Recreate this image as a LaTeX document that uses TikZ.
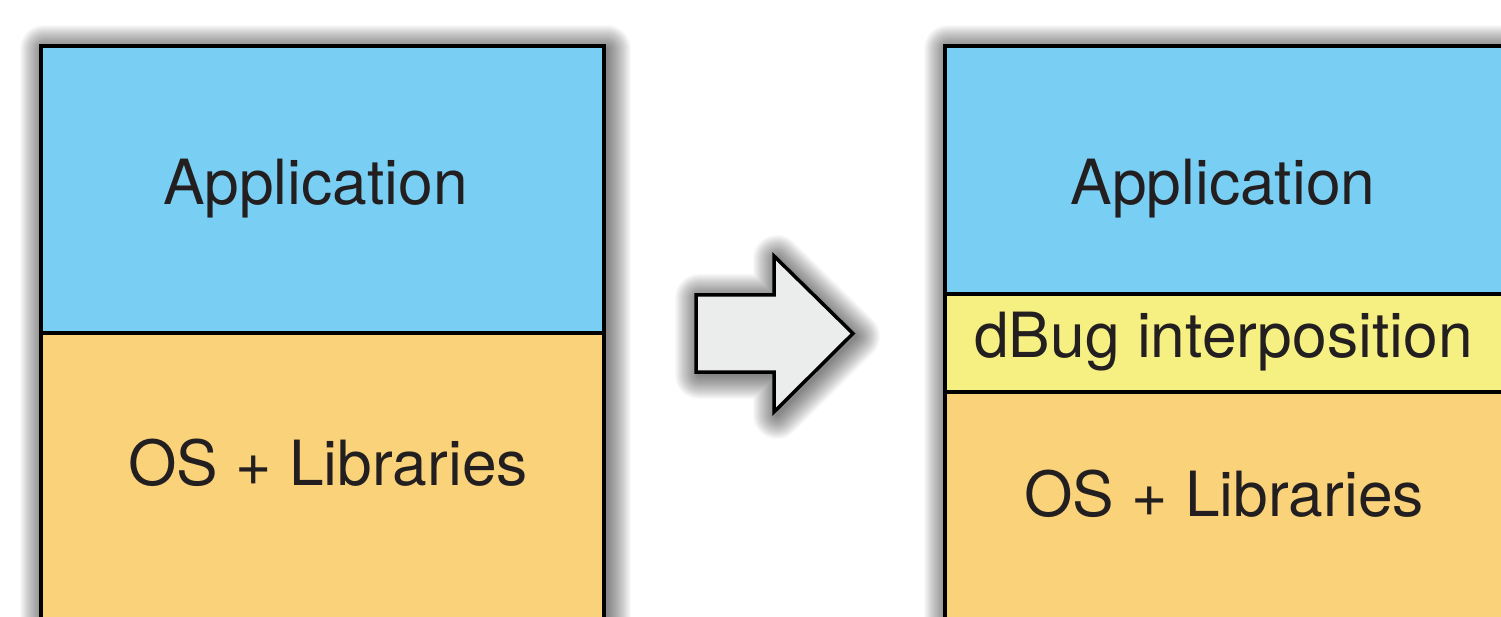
\documentclass[tikz,border=0pt]{standalone}
\usepackage{fontspec}
\setmainfont{TeX Gyre Heros}
\definecolor{appblue}{HTML}{78CFF3}
\definecolor{osorange}{HTML}{F9D27A}
\definecolor{dbugyellow}{HTML}{F6F083}
\definecolor{arrowgray}{HTML}{EBEDED}
\definecolor{ink}{HTML}{231F20}
\tikzset{
  outline/.style={draw=black, line width=3.5pt},
  divider/.style={draw=black, line width=3.2pt},
  layertext/.style={anchor=base, text=ink, inner sep=0pt,
      font=\fontsize{62.3}{74}\selectfont},
}
% soft drop shadow: stacked translucent strokes of growing width
\newcommand\softglow[1]{%
  \foreach \w in {2,4,...,48}{%
    \draw[black, opacity=0.022, line width=\w pt, line join=round,
          xshift=3pt, yshift=-3pt] #1;}}
\begin{document}
\begin{tikzpicture}[x=1pt, y=-1pt]
  \useasboundingbox (0,0) rectangle (1501,617);
  \clip (0,0) rectangle (1501,617);
  \fill[white] (0,0) rectangle (1501,617);

  % plain stack
  \softglow{(41,46) rectangle (604,700)}
  \fill[appblue] (41,46) rectangle (604,333);
  \fill[osorange] (41,333) rectangle (604,700);
  \draw[divider] (41,333) -- (604,333);
  \draw[outline] (41,46) rectangle (604,700);
  \node[layertext] (appL) at (315.5,205) {Application};
  \node[layertext] (osL) at (328,485) {OS + Libraries};

  % transition arrow
  \softglow{(696,295) -- (774,295) -- (774,256) -- (853,333.5) -- (774,412)
    -- (774,372) -- (696,372) -- cycle}
  \draw[outline, line join=miter, fill=arrowgray]
    (696,295) -- (774,295) -- (774,256) -- (853,333.5) -- (774,412)
    -- (774,372) -- (696,372) -- cycle;

  % stack with interposition layer
  \softglow{(945,46) rectangle (1600,700)}
  \fill[appblue] (945,46) rectangle (1600,294);
  \fill[dbugyellow] (945,294) rectangle (1600,392);
  \fill[osorange] (945,392) rectangle (1600,700);
  \draw[divider] (945,294) -- (1600,294);
  \draw[divider] (945,392) -- (1600,392);
  \draw[outline] (945,46) rectangle (1600,700);
  \node[layertext] (appR) at (1223,205) {Application};
  \node[layertext] (dbug) at (1223.5,357) {dBug interposition};
  \node[layertext] (osR) at (1224,516) {OS + Libraries};
\end{tikzpicture}
\end{document}
